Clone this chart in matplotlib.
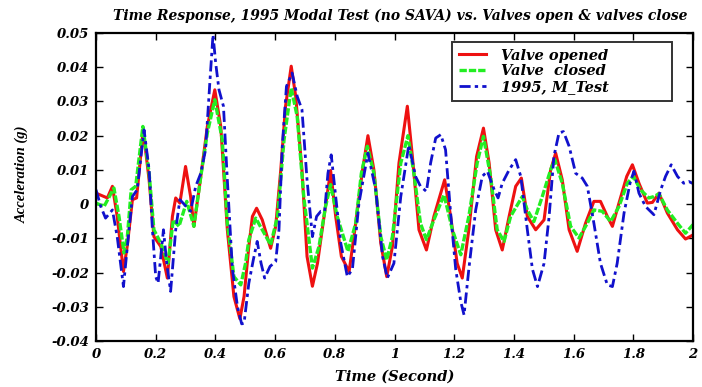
import matplotlib
matplotlib.use("Agg")
import matplotlib.pyplot as plt
from matplotlib.ticker import FixedLocator, FixedFormatter

# ---- data ----
t_open = [0.000, 0.038, 0.055, 0.071, 0.092, 0.105, 0.122, 0.136, 0.158, 0.178, 0.194, 0.217,
          0.239, 0.256, 0.267, 0.281, 0.300, 0.317, 0.328, 0.351, 0.373, 0.398, 0.418, 0.440,
          0.462, 0.482, 0.496, 0.512, 0.524, 0.538, 0.557, 0.585, 0.602, 0.619, 0.635, 0.654,
          0.669, 0.690, 0.707, 0.725, 0.742, 0.764, 0.786, 0.803, 0.822, 0.848, 0.870, 0.893,
          0.911, 0.931, 0.954, 0.974, 0.993, 1.015, 1.043, 1.060, 1.082, 1.107, 1.132, 1.168,
          1.188, 1.210, 1.227, 1.249, 1.275, 1.298, 1.317, 1.339, 1.361, 1.384, 1.406, 1.425,
          1.445, 1.473, 1.501, 1.523, 1.540, 1.562, 1.585, 1.612, 1.640, 1.668, 1.690, 1.713,
          1.730, 1.752, 1.778, 1.797, 1.819, 1.847, 1.864, 1.886, 1.914, 1.948, 1.975, 2.000]
v_open = [0.0032, 0.0018, 0.0052, -0.0036, -0.0197, -0.0120, 0.0013, 0.0018, 0.0217, 0.0070,
          -0.0095, -0.0124, -0.0216, -0.0036, 0.0018, 0.0003, 0.0110, 0.0022, -0.0065, 0.0080,
          0.0227, 0.0334, 0.0227, -0.0075, -0.0270, -0.0335, -0.0270, -0.0124, -0.0036, -0.0012,
          -0.0046, -0.0129, -0.0065, 0.0100, 0.0286, 0.0403, 0.0315, 0.0100, -0.0153, -0.0240,
          -0.0173, -0.0036, 0.0098, -0.0036, -0.0153, -0.0197, -0.0056, 0.0100, 0.0200, 0.0100,
          -0.0114, -0.0212, -0.0124, 0.0120, 0.0286, 0.0139, -0.0075, -0.0134, -0.0036, 0.0071,
          -0.0036, -0.0173, -0.0216, -0.0075, 0.0139, 0.0222, 0.0120, -0.0075, -0.0134, -0.0036,
          0.0052, 0.0076, -0.0036, -0.0075, -0.0046, 0.0100, 0.0149, 0.0071, -0.0075, -0.0138,
          -0.0056, 0.0008, 0.0008, -0.0036, -0.0065, 0.0003, 0.0081, 0.0115, 0.0061, 0.0003,
          0.0005, 0.0032, -0.0026, -0.0075, -0.0102, -0.0090]

t_closed = [0.000, 0.027, 0.060, 0.077, 0.094, 0.105, 0.118, 0.133, 0.157, 0.178, 0.194, 0.217,
            0.241, 0.259, 0.278, 0.304, 0.328, 0.351, 0.373, 0.398, 0.423, 0.440, 0.462, 0.485,
            0.501, 0.512, 0.535, 0.557, 0.585, 0.608, 0.630, 0.654, 0.674, 0.696, 0.725, 0.747,
            0.769, 0.786, 0.808, 0.844, 0.870, 0.889, 0.909, 0.931, 0.954, 0.974, 0.993, 1.021,
            1.045, 1.065, 1.087, 1.107, 1.132, 1.166, 1.194, 1.222, 1.249, 1.277, 1.298, 1.322,
            1.344, 1.367, 1.389, 1.428, 1.445, 1.467, 1.495, 1.523, 1.537, 1.562, 1.590, 1.618,
            1.646, 1.668, 1.696, 1.724, 1.752, 1.780, 1.800, 1.824, 1.852, 1.869, 1.886, 1.914,
            1.948, 1.975, 2.000]
v_closed = [0.0003, -0.0007, 0.0047, -0.0036, -0.0143, -0.0095, 0.0042, 0.0052, 0.0227, 0.0090,
            -0.0075, -0.0114, -0.0173, -0.0046, -0.0065, 0.0008, -0.0065, 0.0080, 0.0208, 0.0305,
            0.0188, -0.0056, -0.0212, -0.0236, -0.0173, -0.0104, -0.0041, -0.0075, -0.0119, -0.0036,
            0.0188, 0.0339, 0.0256, 0.0022, -0.0187, -0.0124, -0.0007, 0.0057, -0.0036, -0.0138,
            -0.0056, 0.0090, 0.0169, 0.0090, -0.0095, -0.0163, -0.0095, 0.0120, 0.0200, 0.0090,
            -0.0056, -0.0104, -0.0046, 0.0027, -0.0075, -0.0148, -0.0036, 0.0120, 0.0198, 0.0080,
            -0.0075, -0.0109, -0.0036, 0.0022, -0.0017, -0.0051, 0.0022, 0.0100, 0.0130, 0.0061,
            -0.0065, -0.0099, -0.0056, -0.0017, -0.0021, -0.0051, -0.0007, 0.0061, 0.0081, 0.0042,
            0.0018, 0.0022, 0.0030, -0.0017, -0.0056, -0.0085, -0.0060]

t_test = [0.000, 0.016, 0.032, 0.055, 0.071, 0.092, 0.105, 0.122, 0.138, 0.161, 0.178, 0.189,
          0.200, 0.208, 0.217, 0.226, 0.237, 0.250, 0.267, 0.281, 0.297, 0.317, 0.334, 0.351,
          0.367, 0.382, 0.392, 0.401, 0.412, 0.427, 0.440, 0.457, 0.474, 0.488, 0.496, 0.512,
          0.527, 0.540, 0.553, 0.565, 0.583, 0.602, 0.613, 0.624, 0.638, 0.657, 0.674, 0.690,
          0.707, 0.725, 0.739, 0.753, 0.766, 0.777, 0.788, 0.803, 0.820, 0.842, 0.859, 0.881,
          0.911, 0.937, 0.960, 0.976, 0.998, 1.021, 1.048, 1.071, 1.087, 1.107, 1.121, 1.138,
          1.155, 1.171, 1.188, 1.205, 1.222, 1.233, 1.249, 1.272, 1.294, 1.311, 1.334, 1.347,
          1.361, 1.384, 1.406, 1.423, 1.445, 1.462, 1.479, 1.501, 1.518, 1.534, 1.551, 1.566,
          1.585, 1.607, 1.629, 1.646, 1.668, 1.690, 1.713, 1.730, 1.746, 1.769, 1.789, 1.802,
          1.819, 1.841, 1.869, 1.892, 1.908, 1.927, 1.948, 1.969, 1.986, 2.000]
v_test = [0.0042, -0.0007, -0.0041, -0.0017, -0.0095, -0.0241, -0.0124, 0.0022, 0.0042, 0.0217,
          0.0100, -0.0075, -0.0212, -0.0231, -0.0153, -0.0075, -0.0173, -0.0255, -0.0075, 0.0013,
          -0.0002, -0.0021, 0.0052, 0.0090, 0.0159, 0.0364, 0.0495, 0.0412, 0.0334, 0.0286,
          0.0071, -0.0190, -0.0300, -0.0350, -0.0348, -0.0231, -0.0163, -0.0109, -0.0173, -0.0216,
          -0.0182, -0.0168, -0.0075, 0.0169, 0.0344, 0.0383, 0.0315, 0.0276, 0.0071, -0.0095,
          -0.0036, -0.0021, -0.0021, 0.0090, 0.0144, 0.0022, -0.0114, -0.0212, -0.0190, 0.0003,
          0.0149, 0.0042, -0.0153, -0.0216, -0.0173, 0.0022, 0.0173, 0.0080, 0.0052, 0.0037,
          0.0120, 0.0193, 0.0203, 0.0159, -0.0026, -0.0190, -0.0285, -0.0324, -0.0190, -0.0017,
          0.0081, 0.0096, 0.0042, 0.0018, 0.0061, 0.0100, 0.0130, 0.0081, -0.0075, -0.0190,
          -0.0241, -0.0173, -0.0036, 0.0139, 0.0208, 0.0212, 0.0169, 0.0090, 0.0076, 0.0052,
          -0.0056, -0.0173, -0.0236, -0.0241, -0.0173, -0.0026, 0.0061, 0.0096, 0.0032, -0.0007,
          -0.0031, 0.0042, 0.0081, 0.0115, 0.0081, 0.0061, 0.0066, 0.0060]

series_labels = ["Valve opened", "Valve  closed", "1995, M_Test"]
x_ticks = [0.0, 0.2, 0.4, 0.6, 0.8, 1.0, 1.2, 1.4, 1.6, 1.8, 2.0]
x_tick_labels = ["0", "0.2", "0.4", "0.6", "0.8", "1", "1.2", "1.4", "1.6", "1.8", "2"]
y_ticks = [0.05, 0.04, 0.03, 0.02, 0.01, 0.0, -0.01, -0.02, -0.03, -0.04]
y_tick_labels = ["0.05", "0.04", "0.03", "0.02", "0.01", "0", "-0.01", "-0.02", "-0.03", "-0.04"]
title = "Time Response, 1995 Modal Test (no SAVA) vs. Valves open & valves close"
x_label = "Time (Second)"
y_label = "Acceleration (g)"

# ---- drawing ----
wide = ["DejaVu Serif"]
serif = ["Liberation Serif", "DejaVu Serif"]
bi = dict(fontweight="bold", fontstyle="italic")
fig = plt.figure(figsize=(7.02, 3.87), dpi=100)
ax = fig.add_axes([96 / 702, 1 - 341 / 387, 597 / 702, 308 / 387])

ax.plot(t_open, v_open, color="#ee1111", lw=2.2, ls="-", label=series_labels[0],
        solid_joinstyle="round")
ax.plot(t_closed, v_closed, color="#22ee22", lw=2.4, ls=(0, (2.2, 0.6)), label=series_labels[1],
        dash_joinstyle="round")
ax.plot(t_test, v_test, color="#1111cc", lw=2.0, ls=(0, (4, 1.5, 1.2, 1.5)),
        label=series_labels[2], dash_joinstyle="round")

ax.set_xlim(0, 2)
ax.set_ylim(-0.04, 0.05)
ax.xaxis.set_major_locator(FixedLocator(x_ticks))
ax.xaxis.set_major_formatter(FixedFormatter(x_tick_labels))
ax.yaxis.set_major_locator(FixedLocator(y_ticks))
ax.yaxis.set_major_formatter(FixedFormatter(y_tick_labels))
ax.tick_params(direction="in", length=5, width=1, top=True, right=True,
               labelsize=9.5, pad=5)
for lab in ax.get_xticklabels() + ax.get_yticklabels():
    lab.set_fontfamily(wide)
    lab.set_fontweight("bold")
    lab.set_fontstyle("italic")
for sp in ax.spines.values():
    sp.set_linewidth(1.6)

fig.text(400 / 702, 1 - 16 / 387, title, ha="center", va="center",
         fontfamily=wide, fontsize=10, **bi)
ax.set_xlabel(x_label, fontfamily=wide, fontsize=10.5, labelpad=6, **bi)
fig.text(22 / 702, 1 - 174 / 387, y_label, rotation=90, ha="center", va="center",
         fontfamily=serif, fontsize=10.5, **bi)

leg = ax.legend(loc="upper left", mode="expand",
                bbox_to_anchor=(452 / 702, 1 - 42 / 387, 220 / 702, 0.0),
                bbox_transform=fig.transFigure, frameon=True, fancybox=False,
                edgecolor="black", handlelength=1.9, handletextpad=1.0,
                labelspacing=0.12, borderpad=0.45, borderaxespad=0,
                prop=dict(family=wide, weight="bold", style="italic", size=10.5))
leg.get_frame().set_linewidth(1.4)

fig.savefig("out.png", dpi=100)
